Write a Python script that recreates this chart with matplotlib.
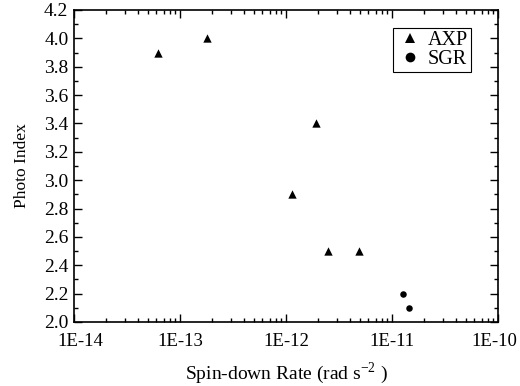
import matplotlib
matplotlib.use("Agg")
import matplotlib.pyplot as plt
import matplotlib.transforms as mtransforms
from matplotlib.lines import Line2D
from matplotlib.ticker import LogLocator, MultipleLocator, FixedLocator, NullFormatter

plt.rcParams['font.family'] = ['Liberation Serif', 'DejaVu Serif']
plt.rcParams['mathtext.fontset'] = 'custom'
plt.rcParams['mathtext.rm'] = 'Liberation Serif'

axp_x = [6.2e-14, 1.8e-13, 1.9e-12, 1.15e-12, 2.5e-12, 4.9e-12]
axp_y = [3.9, 4.0, 3.4, 2.9, 2.5, 2.5]
sgr_x = [1.28e-11, 1.45e-11]
sgr_y = [2.2, 2.1]
xtick_vals = [1e-14, 1e-13, 1e-12, 1e-11, 1e-10]
xtick_labels = ['1E-14', '1E-13', '1E-12', '1E-11', '1E-10']

fig = plt.figure(figsize=(5.2, 3.86), dpi=100)
ax = fig.add_axes([74/520, 1-322/386, (498-74)/520, (322-10)/386])

ax.scatter(axp_x, axp_y, marker='^', s=36, color='black', linewidths=0)
ax.scatter(sgr_x, sgr_y, marker='o', s=22, color='black', linewidths=0)

ax.set_xscale('log')
ax.set_xlim(1e-14, 1e-10)
ax.set_ylim(2.0, 4.2)
ax.xaxis.set_major_locator(FixedLocator(xtick_vals))
ax.set_xticklabels(xtick_labels)
ax.xaxis.set_minor_locator(LogLocator(base=10, subs=range(2, 10), numticks=20))
ax.xaxis.set_minor_formatter(NullFormatter())
ax.yaxis.set_major_locator(MultipleLocator(0.2))
ax.yaxis.set_minor_locator(MultipleLocator(0.1))
ax.yaxis.set_major_formatter(plt.FuncFormatter(lambda v, p: f'{v:.1f}'))

ax.tick_params(which='both', direction='in', top=True, right=True, labelsize=14, width=1, colors='black')
ax.tick_params(axis='x', which='major', labelsize=13.5)
ax.tick_params(which='major', length=6)
ax.tick_params(which='minor', length=3)
ax.tick_params(axis='x', which='major', pad=8)
ax.tick_params(axis='y', which='major', pad=4)
for s in ax.spines.values():
    s.set_linewidth(1.2)

# end x tick labels sit slightly inward of their ticks
xlabels = ax.get_xticklabels()
xlabels[0].set_transform(xlabels[0].get_transform() + mtransforms.ScaledTranslation(6/100, 0, fig.dpi_scale_trans))
xlabels[-1].set_transform(xlabels[-1].get_transform() + mtransforms.ScaledTranslation(-4/100, 0, fig.dpi_scale_trans))

ax.set_xlabel('Spin-down Rate (rad s$^{\\mathrm{-2}}$ )', fontsize=14, labelpad=7)
ax.yaxis.set_label_coords(-(74-30)/424, 0.5)
ax.set_ylabel('Photo Index', fontsize=12.5)

handles = [Line2D([], [], marker='^', ls='none', color='black', markersize=7.5, markeredgewidth=0),
           Line2D([], [], marker='o', ls='none', color='black', markersize=7, markeredgewidth=0)]
leg = ax.legend(handles, ['AXP', 'SGR'], loc='upper right',
                bbox_to_anchor=((471-74)/424, (322-28)/312), fontsize=14.5,
                fancybox=False, edgecolor='black', framealpha=1,
                handletextpad=0.2, borderpad=0.15, labelspacing=0.0, handlelength=1.4,
                borderaxespad=0)
leg.get_frame().set_linewidth(0.8)

fig.savefig('out.png', dpi=100)
